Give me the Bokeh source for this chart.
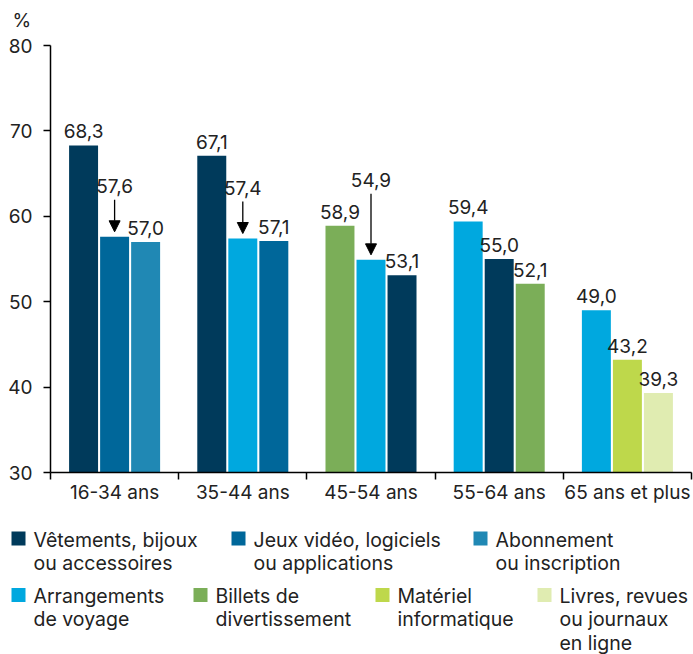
from bokeh.plotting import figure
from bokeh.models import Range1d, FixedTicker, Arrow, NormalHead, ColumnDataSource
from bokeh.core.properties import value
from bokeh.layouts import column
from bokeh.embed import file_html
from bokeh.resources import INLINE

# ---- data ----
groups = ["16-34 ans", "35-44 ans", "45-54 ans", "55-64 ans", "65 ans et plus"]
series_names = [
    "Vêtements, bijoux\nou accessoires",
    "Jeux vidéo, logiciels\nou applications",
    "Abonnement\nou inscription",
    "Arrangements\nde voyage",
    "Billets de\ndivertissement",
    "Matériel\ninformatique",
    "Livres, revues\nou journaux\nen ligne",
]
series_colors = ["#003A5B", "#00679A", "#2088B4", "#00A8DF", "#7BAE58", "#BED84B", "#E0ECB1"]

bar_group = [0, 0, 0, 1, 1, 1, 2, 2, 2, 3, 3, 3, 4, 4, 4]
bar_slot = [0, 1, 2] * 5
bar_series = [0, 1, 2, 0, 3, 1, 4, 3, 0, 3, 0, 4, 3, 5, 6]
bar_value = [68.3, 57.6, 57.0, 67.1, 57.4, 57.1, 58.9, 54.9, 53.1, 59.4, 55.0, 52.1, 49.0, 43.2, 39.3]

y_ticks = [30, 40, 50, 60, 70, 80]
unit_label = "%"

# ---- layout constants ----
FONT = value("Inter")
FS = "19px"
TXT = "#222222"
W = 693
H0 = 32                      # strip holding the unit label
FW, FH = 641, 427
TOP, BOTTOM, LEFT, RIGHT = 45 - H0, 40, 50, 2
H1 = TOP + FH + BOTTOM
ppu = FH / (y_ticks[-1] - y_ticks[0])      # pixels per y unit
BF = 6                                      # baseline correction (px)


def blank(h):
    f = figure(width=W, height=h, output_backend="svg", toolbar_location=None,
               x_range=Range1d(0, W), y_range=Range1d(h, 0),
               x_axis_location=None, y_axis_location=None, min_border=0,
               min_border_left=0, min_border_right=0, min_border_top=0, min_border_bottom=0)
    f.outline_line_color = None
    f.grid.visible = False
    f.frame_align = False
    return f


# ---- unit label strip ----
top = blank(H0)
top.text(x=[12], y=[26 - BF], text=[unit_label], text_baseline="alphabetic", text_align="left",
         text_font=FONT, text_font_size=FS, text_color=TXT)

# ---- main chart ----
offset = 0.242
bw = 0.226
xs = [g + 0.5 + (s - 1) * offset for g, s in zip(bar_group, bar_slot)]
colors = [series_colors[i] for i in bar_series]
labels = [f"{v:.1f}".replace(".", ",") for v in bar_value]

arrow_lift = {1: 45, 4: 45, 7: 74}   # bar index -> label lift in px
label_y = [v + (arrow_lift.get(i, 8) + BF) / ppu for i, v in enumerate(bar_value)]

src = ColumnDataSource(dict(x=xs, top=bar_value, color=colors, label=labels, ly=label_y))

p = figure(frame_width=FW, frame_height=FH, output_backend="svg", toolbar_location=None,
           x_range=Range1d(0, len(groups)), y_range=Range1d(y_ticks[0], y_ticks[-1]),
           min_border_top=TOP, min_border_bottom=BOTTOM, min_border_left=LEFT, min_border_right=RIGHT)
p.outline_line_color = None
p.grid.visible = False
p.frame_align = False

p.vbar(x="x", top="top", bottom=y_ticks[0], width=bw, color="color", line_color=None, source=src)
p.text(x="x", y="ly", text="label", source=src, text_align="center", text_baseline="alphabetic",
       text_font=FONT, text_font_size=FS, text_color=TXT)

for i in arrow_lift:
    v = bar_value[i]
    p.add_layout(Arrow(end=NormalHead(size=11, fill_color="black", line_color="black"),
                       x_start=xs[i], y_start=v + (arrow_lift[i] - 8) / ppu,
                       x_end=xs[i], y_end=v + 5 / ppu, line_width=1.3, line_color="black"))

centers = [i + 0.5 for i in range(len(groups))]
p.xaxis.ticker = FixedTicker(ticks=centers, minor_ticks=list(range(len(groups) + 1)))
p.xaxis.major_label_overrides = {c: g for c, g in zip(centers, groups)}
p.xaxis.major_tick_out = 0
p.xaxis.major_tick_in = 0
p.xaxis.minor_tick_out = 7
p.xaxis.minor_tick_in = 0
p.xaxis.minor_tick_line_color = "black"
p.xaxis.minor_tick_line_width = 1.5
p.xaxis.axis_line_color = "black"
p.xaxis.axis_line_width = 1.5
p.xaxis.major_label_standoff = 1
p.xaxis.major_label_text_font = "Inter"
p.xaxis.major_label_text_font_size = FS
p.xaxis.major_label_text_color = TXT

p.yaxis.ticker = FixedTicker(ticks=y_ticks)
p.yaxis.major_tick_out = 7
p.yaxis.major_tick_in = 0
p.yaxis.major_tick_line_width = 1.5
p.yaxis.major_tick_line_color = "black"
p.yaxis.minor_tick_line_color = None
p.yaxis.axis_line_color = "black"
p.yaxis.axis_line_width = 1.5
p.yaxis.major_label_standoff = 11
p.yaxis.major_label_text_font = "Inter"
p.yaxis.major_label_text_font_size = FS
p.yaxis.major_label_text_color = TXT

# ---- legend (pixel coordinates, y downward) ----
Y0 = H0 + H1
H2 = 654 - Y0
leg = blank(H2)

sq = 14
line_h = 23.3
item_pos = [  # (square x, text x, baseline y in page px)
    (11, 33, 545), (231, 253, 545), (473, 495, 545),
    (11, 33, 601.5), (193, 215, 601.5), (375, 397, 601.5), (537, 559, 601.5),
]
sqx, sqy, tx, ty, tt = [], [], [], [], []
for (sx, txx, by), name in zip(item_pos, series_names):
    b = by - Y0
    sqx.append(sx + sq / 2)
    sqy.append(b - sq / 2)
    for k, line in enumerate(name.split("\n")):
        tx.append(txx)
        ty.append(b + k * line_h - BF)
        tt.append(line)
leg.rect(x=sqx, y=sqy, width=sq, height=sq, color=series_colors, line_color=None)
leg.text(x=tx, y=ty, text=tt, text_baseline="alphabetic", text_align="left",
         text_font=FONT, text_font_size="19.5px", text_color=TXT)

layout = column(top, p, leg, spacing=0)
open("out.html", "w").write(file_html(layout, INLINE))
